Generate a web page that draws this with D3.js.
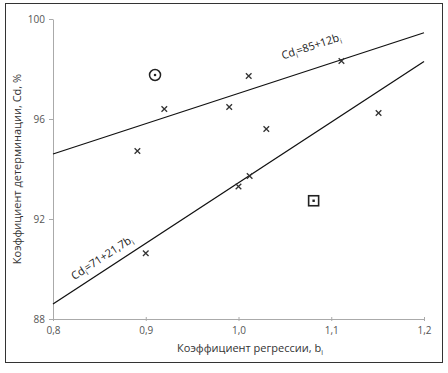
<!DOCTYPE html>
<html><head><meta charset="utf-8">
<script src="https://cdn.jsdelivr.net/npm/d3@7"></script>
<style>body{margin:0;background:#fff}svg text{font-family:"Open Sans","Liberation Sans",sans-serif}</style>
</head><body>
<svg id="c" width="448" height="373"></svg>
<script>
const xTicks = [0.8, 0.9, 1.0, 1.1, 1.2];
const yTicks = [88, 92, 96, 100];
const crossX = [0.891, 0.92, 0.99, 1.011, 1.03, 1.111, 1.151, 1.012, 1.0, 0.9];
const crossY = [94.72, 96.4, 96.48, 97.72, 95.6, 98.32, 96.24, 93.72, 93.3, 90.63];
const circleX = [0.91];
const circleY = [97.76];
const squareX = [1.081];
const squareY = [92.73];
const upperLineX = [0.8, 1.2];
const upperLineY = [94.6, 99.45];
const lowerLineX = [0.8, 1.2];
const lowerLineY = [88.6, 98.3];

const svg = d3.select("#c");
const x = d3.scaleLinear().domain([0.8, 1.2]).range([53, 424]);
const y = d3.scaleLinear().domain([88, 100]).range([319, 19]);
const fmt = d => d.toFixed(1).replace(".", ",");

svg.append("rect").attr("x", 5.5).attr("y", 3.5).attr("width", 437).attr("height", 359)
  .attr("fill", "none").attr("stroke", "#333").attr("stroke-width", 1);

const ax = svg.append("g").attr("transform", "translate(0,319)")
  .call(d3.axisBottom(x).tickValues(xTicks).tickFormat(fmt).tickSize(4).tickSizeOuter(0));
ax.select(".domain").attr("stroke", "#aaa");
ax.selectAll(".tick line").attr("stroke", "#aaa").attr("y1", -2).attr("y2", 2);
ax.selectAll("text").attr("fill", "#555").attr("font-size", 10).attr("y", 6).attr("dy", "0.9em");

const ay = svg.append("g").attr("transform", "translate(53,0)")
  .call(d3.axisLeft(y).tickValues(yTicks).tickSize(4).tickSizeOuter(0));
ay.select(".domain").attr("stroke", "#aaa");
ay.selectAll(".tick line").attr("stroke", "#aaa");
ay.selectAll("text").attr("fill", "#555").attr("font-size", 10).attr("x", -8);

const line = d3.line().x(d => x(d[0])).y(d => y(d[1]));
svg.append("path").datum(upperLineX.map((v, i) => [v, upperLineY[i]]))
  .attr("d", line).attr("stroke", "#111").attr("stroke-width", 1.3).attr("fill", "none");
svg.append("path").datum(lowerLineX.map((v, i) => [v, lowerLineY[i]]))
  .attr("d", line).attr("stroke", "#111").attr("stroke-width", 1.3).attr("fill", "none");

const cross = svg.append("g").attr("stroke", "#333").attr("stroke-width", 1.3);
crossX.forEach((v, i) => {
  const cx = x(v), cy = y(crossY[i]), s = 2.8;
  cross.append("path").attr("d", `M${cx-s},${cy-s}L${cx+s},${cy+s}M${cx-s},${cy+s}L${cx+s},${cy-s}`);
});
circleX.forEach((v, i) => {
  svg.append("circle").attr("cx", x(v)).attr("cy", y(circleY[i])).attr("r", 5.5)
    .attr("fill", "none").attr("stroke", "#222").attr("stroke-width", 1.5);
  svg.append("circle").attr("cx", x(v)).attr("cy", y(circleY[i])).attr("r", 1.3).attr("fill", "#222");
});
squareX.forEach((v, i) => {
  svg.append("rect").attr("x", x(v) - 5).attr("y", y(squareY[i]) - 5).attr("width", 10).attr("height", 10)
    .attr("fill", "none").attr("stroke", "#222").attr("stroke-width", 1.6);
  svg.append("rect").attr("x", x(v) - 1.2).attr("y", y(squareY[i]) - 1.2).attr("width", 2.4).attr("height", 2.4).attr("fill", "#222");
});

function eqLabel(xv, yv, ang, parts) {
  const t = svg.append("text").attr("transform", `translate(${x(xv)},${y(yv)}) rotate(${ang})`)
    .attr("font-size", 11).attr("fill", "#222");
  parts.forEach(p => {
    const ts = t.append("tspan").text(p[0]);
    if (p[1]) ts.attr("font-size", 7).attr("dy", 3); else ts.attr("dy", p[2] || 0);
  });
}
const angU = Math.atan2(y(upperLineY[1]) - y(upperLineY[0]), x(upperLineX[1]) - x(upperLineX[0])) * 180 / Math.PI;
const angL = Math.atan2(y(lowerLineY[1]) - y(lowerLineY[0]), x(lowerLineX[1]) - x(lowerLineX[0])) * 180 / Math.PI;
eqLabel(1.048, 98.38, angU, [["Cd"], ["i", true], ["=85+12b", false, -3], ["i", true]]);
eqLabel(0.823, 89.55, angL, [["Cd"], ["i", true], ["=71+21,7b", false, -3], ["i", true]]);

svg.append("text").attr("transform", "translate(21,169) rotate(-90)").attr("text-anchor", "middle")
  .attr("font-size", 11).attr("fill", "#333").text("Коэффициент детерминации, Cd, %");
const xl = svg.append("text").attr("x", 250).attr("y", 352).attr("text-anchor", "middle")
  .attr("font-size", 11).attr("fill", "#333");
xl.append("tspan").text("Коэффициент регрессии, b");
xl.append("tspan").text("i").attr("font-size", 7).attr("dy", 3);
</script>
</body></html>
